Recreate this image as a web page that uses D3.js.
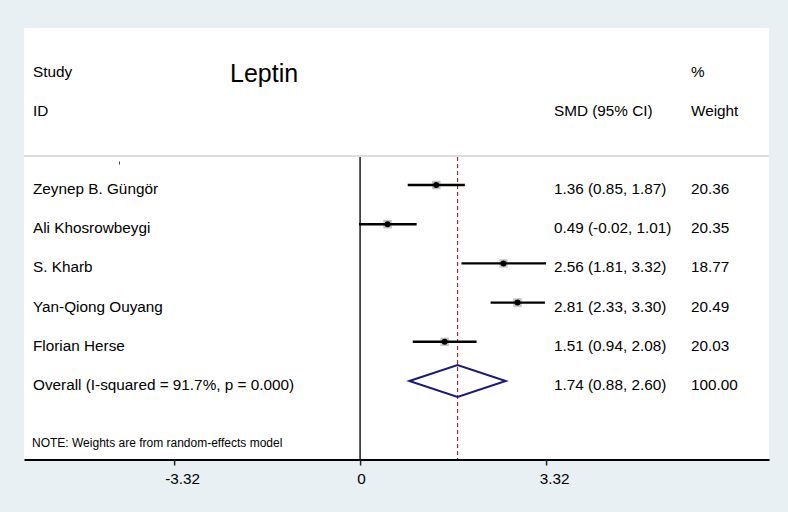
<!DOCTYPE html>
<html>
<head>
<meta charset="utf-8">
<script src="https://cdn.jsdelivr.net/npm/d3@7"></script>
<style>
  html, body { margin: 0; padding: 0; background: #e8f0f3; }
  svg { display: block; }
  text { font-family: "Liberation Sans", Arial, Helvetica, sans-serif; fill: #000; }
</style>
</head>
<body>
<svg id="chart" width="788" height="512"></svg>
<script>
// ---- data ----
const studies = ["Zeynep B. Güngör", "Ali Khosrowbeygi", "S. Kharb", "Yan-Qiong Ouyang", "Florian Herse"];
const smd     = [1.36, 0.49, 2.56, 2.81, 1.51];
const lower   = [0.85, -0.02, 1.81, 2.33, 0.94];
const upper   = [1.87, 1.01, 3.32, 3.30, 2.08];
const weights = [20.36, 20.35, 18.77, 20.49, 20.03];
const overallLabel = "Overall (I-squared = 91.7%, p = 0.000)";
const overall = { est: 1.74, lo: 0.88, hi: 2.60, weight: 100.00 };
const tickValues = [-3.32, 0, 3.32];
const tickLabels = ["-3.32", "0", "3.32"];
const title = "Leptin";
const note = "NOTE: Weights are from random-effects model";

// ---- layout ----
const svg = d3.select("#chart");
const W = 788, H = 512;
const panel = { x0: 24, x1: 769, y0: 28, y1: 459.5 };

svg.append("rect").attr("x", 0).attr("y", 0).attr("width", W).attr("height", H).attr("fill", "#e8f0f3");
svg.append("rect").attr("x", panel.x0).attr("y", panel.y0)
  .attr("width", panel.x1 - panel.x0).attr("height", panel.y1 - panel.y0).attr("fill", "#ffffff");

const x = d3.scaleLinear().domain([-6, 7.3]).range([panel.x0, panel.x1]);
const rowNames = studies.concat([overallLabel]);
const y = d3.scalePoint().domain(rowNames).range([185, 381]);

const fs = 15.3;
const colStudy = 33, colCI = 554, colW = 691;

// header
svg.append("text").attr("x", colStudy).attr("y", 77).attr("font-size", fs).text("Study");
svg.append("text").attr("x", colStudy).attr("y", 116).attr("font-size", fs).text("ID");
svg.append("text").attr("x", 230).attr("y", 82).attr("font-size", 25).text(title);
svg.append("text").attr("x", colCI).attr("y", 116).attr("font-size", fs).text("SMD (95% CI)");
svg.append("text").attr("x", colW).attr("y", 77).attr("font-size", fs).text("%");
svg.append("text").attr("x", colW).attr("y", 116).attr("font-size", fs).text("Weight");

// separator
svg.append("line").attr("x1", panel.x0).attr("x2", panel.x1).attr("y1", 156).attr("y2", 156)
  .attr("stroke", "#d2d2d2").attr("stroke-width", 1.6);
// small artifact mark
svg.append("line").attr("x1", 119.5).attr("x2", 119.5).attr("y1", 161.5).attr("y2", 164.5)
  .attr("stroke", "#444").attr("stroke-width", 1);

// null line
svg.append("line").attr("x1", x(0)).attr("x2", x(0)).attr("y1", 157).attr("y2", panel.y1)
  .attr("stroke", "#2a2a2a").attr("stroke-width", 1.6);
// overall dashed line
svg.append("line").attr("x1", x(overall.est)).attr("x2", x(overall.est)).attr("y1", 157).attr("y2", panel.y1)
  .attr("stroke", "#9c2a3a").attr("stroke-width", 1.2).attr("stroke-dasharray", "4,3");

// study rows
studies.forEach((s, i) => {
  const yy = y(s);
  svg.append("text").attr("x", colStudy).attr("y", yy + 9).attr("font-size", fs).text(s);
  const side = 8.5 * Math.sqrt(weights[i] / 20);
  svg.append("rect").attr("x", x(smd[i]) - side / 2).attr("y", yy - side / 2)
    .attr("width", side).attr("height", side).attr("fill", "#c4c4c4");
  svg.append("line").attr("x1", x(lower[i])).attr("x2", x(upper[i])).attr("y1", yy).attr("y2", yy)
    .attr("stroke", "#000").attr("stroke-width", 2.4);
  svg.append("circle").attr("cx", x(smd[i])).attr("cy", yy).attr("r", 3).attr("fill", "#000");
  const ci = `${smd[i].toFixed(2)} (${lower[i].toFixed(2)}, ${upper[i].toFixed(2)})`;
  svg.append("text").attr("x", colCI).attr("y", yy + 9).attr("font-size", fs).text(ci);
  svg.append("text").attr("x", colW).attr("y", yy + 9).attr("font-size", fs).text(weights[i].toFixed(2));
});

// overall row
{
  const yy = y(overallLabel);
  const hh = 16;
  svg.append("text").attr("x", colStudy).attr("y", yy + 9).attr("font-size", fs).text(overallLabel);
  const pts = [[x(overall.lo), yy], [x(overall.est), yy - hh], [x(overall.hi), yy], [x(overall.est), yy + hh]];
  svg.append("path").attr("d", d3.line()(pts) + "Z")
    .attr("fill", "none").attr("stroke", "#1a1a78").attr("stroke-width", 2);
  const ci = `${overall.est.toFixed(2)} (${overall.lo.toFixed(2)}, ${overall.hi.toFixed(2)})`;
  svg.append("text").attr("x", colCI).attr("y", yy + 9).attr("font-size", fs).text(ci);
  svg.append("text").attr("x", colW).attr("y", yy + 9).attr("font-size", fs).text(overall.weight.toFixed(2));
}

// note
svg.append("text").attr("x", 32).attr("y", 447).attr("font-size", 12).text(note);

// axis
const axis = d3.axisBottom(x).tickValues(tickValues).tickSize(6).tickSizeOuter(0)
  .tickFormat((d, i) => tickLabels[i]);
const gAx = svg.append("g").attr("transform", `translate(0,${panel.y1})`).call(axis);
gAx.select(".domain").attr("stroke", "#000").attr("stroke-width", 2);
gAx.selectAll(".tick line").attr("stroke", "#222").attr("stroke-width", 1.5);
gAx.selectAll(".tick text").attr("font-size", fs).attr("fill", "#000")
  .attr("font-family", '"Liberation Sans", Arial, sans-serif')
  .attr("dy", "0.71em").attr("y", 14)
  .attr("dx", d => d === 0 ? 1 : 8);
</script>
</body>
</html>
